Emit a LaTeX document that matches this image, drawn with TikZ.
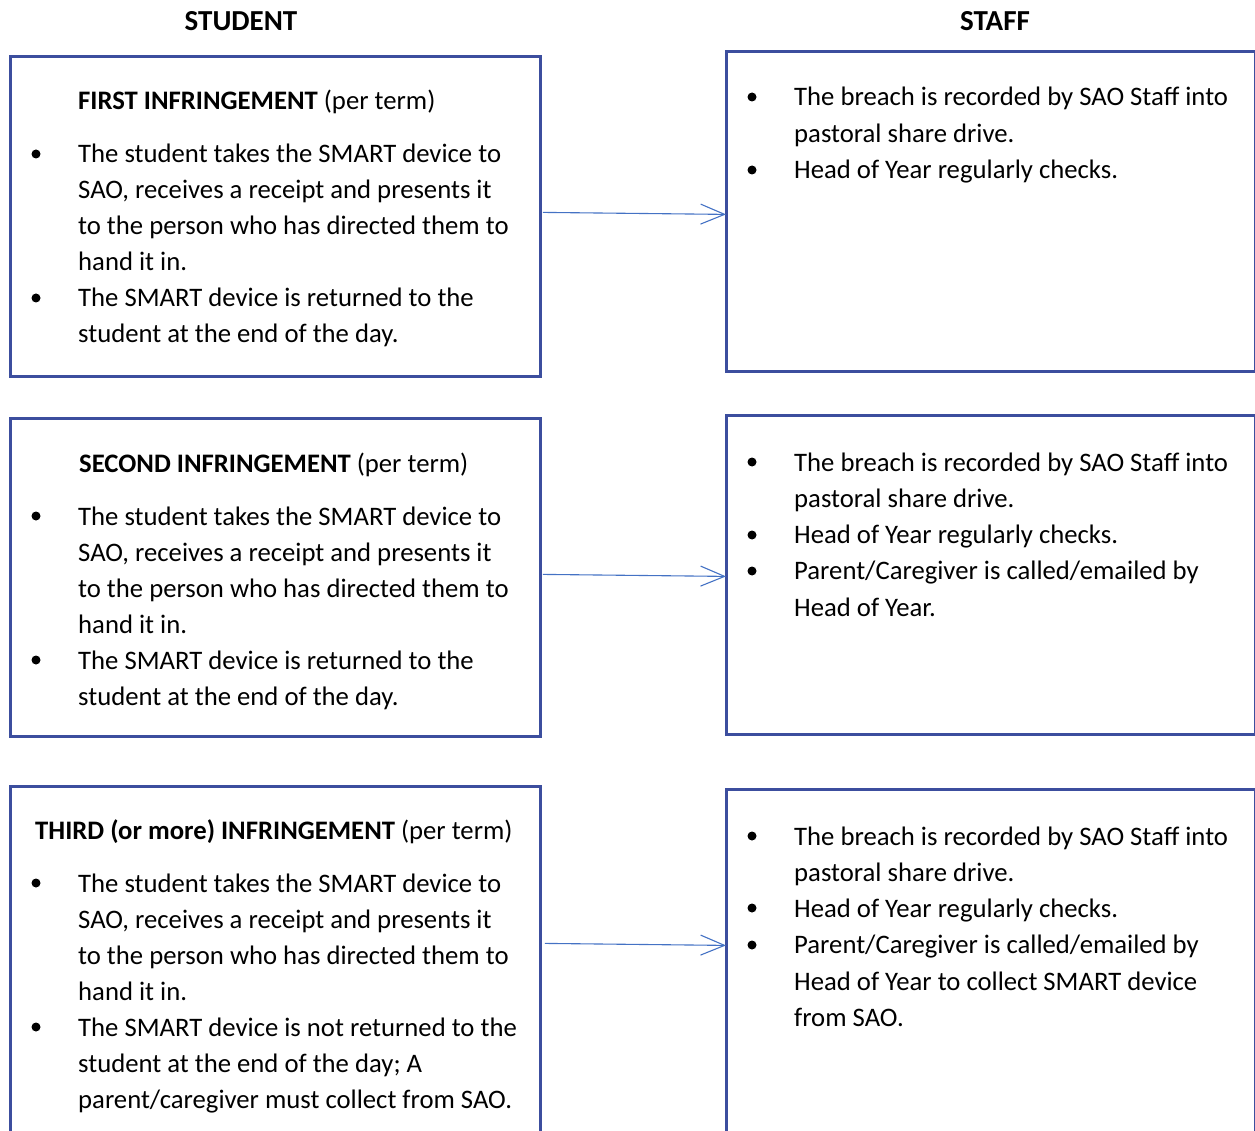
\documentclass[tikz,border=0pt]{standalone}
\usepackage{fontspec}
\setmainfont{Carlito}
\usetikzlibrary{arrows.meta}
\definecolor{boxblue}{RGB}{60,78,158}
\definecolor{arrblue}{RGB}{68,114,196}
\newcommand\blocklines[5]{%
  \foreach \t [count=\i] in {#5} {\node[txt] (#1\i) at (#2,{#3+#4*(\i-1)}) {\t};}}
\begin{document}
\begin{tikzpicture}[x=1pt,y=-1pt,
  box/.style={draw=boxblue,line width=2.8pt,anchor=north west,minimum width=530pt,inner sep=0pt},
  txt/.style={anchor=base west,inner sep=0pt,font=\fontsize{26.7}{36}\selectfont},
  hdr/.style={anchor=base,inner sep=0pt,font=\fontsize{29}{36}\selectfont\bfseries},
  bul/.style={circle,fill=black,inner sep=0pt,minimum size=9pt},
  arr/.style={draw=arrblue,line width=1.1pt,-{Straight Barb[length=24pt,width=20pt,line width=1.1pt]}}]
\useasboundingbox (0,0) rectangle (1255,1131);
\clip (0,0) rectangle (1255,1131);

% headers
\node[hdr] (hstudent) at (241,31) {STUDENT};
\node[hdr] (hstaff) at (995,31) {STAFF};

% boxes
\node[box,minimum height=320pt] (SL1) at (9,55) {};
\node[box,minimum height=320pt,minimum width=529pt] (ST1) at (725,50) {};
\node[box,minimum height=318pt] (SL2) at (9,417) {};
\node[box,minimum height=319pt,minimum width=529pt] (ST2) at (725,414) {};
\node[box,minimum height=400pt] (SL3) at (9,785) {};
\node[box,minimum height=400pt,minimum width=529pt] (ST3) at (725,788) {};

% left 1
\node[txt] (L1t) at (78,110) {\textbf{FIRST INFRINGEMENT} (per term)};
\blocklines{L1l}{78}{163}{36}{The student takes the SMART device to,{SAO, receives a receipt and presents it},to the person who has directed them to,hand it in.,The SMART device is returned to the,student at the end of the day.}
\node[bul] (L1b1) at (36,154) {};
\node[bul] (L1b2) at (36,298) {};

% right 1
\blocklines{R1l}{794}{106}{36.5}{The breach is recorded by SAO Staff into,pastoral share drive.,Head of Year regularly checks.}
\node[bul] (R1b1) at (752,97) {};
\node[bul] (R1b2) at (752,170) {};

% left 2
\node[txt] (L2t) at (79,472) {\textbf{SECOND INFRINGEMENT} (per term)};
\blocklines{L2l}{78}{525}{36}{The student takes the SMART device to,{SAO, receives a receipt and presents it},to the person who has directed them to,hand it in.,The SMART device is returned to the,student at the end of the day.}
\node[bul] (L2b1) at (36,516) {};
\node[bul] (L2b2) at (36,660) {};

% right 2
\blocklines{R2l}{794}{471}{36.3}{The breach is recorded by SAO Staff into,pastoral share drive.,Head of Year regularly checks.,Parent/Caregiver is called/emailed by,Head of Year.}
\node[bul] (R2b1) at (752,462) {};
\node[bul] (R2b2) at (752,535) {};
\node[bul] (R2b3) at (752,571) {};

% left 3
\node[txt] (L3t) at (35,839) {\textbf{THIRD (or more) INFRINGEMENT} (per term)};
\blocklines{L3l}{78}{892}{36}{The student takes the SMART device to,{SAO, receives a receipt and presents it},to the person who has directed them to,hand it in.,The SMART device is not returned to the,student at the end of the day; A,parent/caregiver must collect from SAO.}
\node[bul] (L3b1) at (36,883) {};
\node[bul] (L3b2) at (36,1027) {};

% right 3
\blocklines{R3l}{794}{845}{36.3}{The breach is recorded by SAO Staff into,pastoral share drive.,Head of Year regularly checks.,Parent/Caregiver is called/emailed by,Head of Year to collect SMART device,from SAO.}
\node[bul] (R3b1) at (752,836) {};
\node[bul] (R3b2) at (752,908) {};
\node[bul] (R3b3) at (752,945) {};

% arrows
\draw[arr] ([shift={(1,-4)}]SL1.east) -- ([shift={(1,3)}]ST1.west);
\draw[arr] ([shift={(1,-3)}]SL2.east) -- ([shift={(1,1.5)}]ST2.west);
\draw[arr] ([shift={(3,-43)}]SL3.east) -- ([shift={(1,-44)}]ST3.west);
\end{tikzpicture}
\end{document}
